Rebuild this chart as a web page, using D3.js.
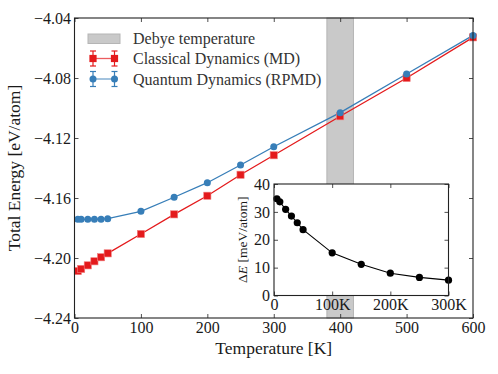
<!DOCTYPE html>
<html>
<head>
<meta charset="utf-8">
<script src="https://cdn.jsdelivr.net/npm/d3@7"></script>
<style>
  html, body { margin: 0; padding: 0; background: #fff; }
  svg { display: block; }
  text { font-family: "Liberation Serif", "DejaVu Serif", serif; fill: #1a1a1a; }
</style>
</head>
<body>
<script>
// ---------- data ----------
const temperatures = [5, 10, 20, 30, 40, 50, 100, 150, 200, 250, 300, 400, 500, 600];
const classicalMD = [-4.2087, -4.2073, -4.2049, -4.2022, -4.1995, -4.1969, -4.1840, -4.1709, -4.1585, -4.1445, -4.1315, -4.1055, -4.0800, -4.0529];
const quantumRPMD = [-4.1742, -4.1742, -4.1742, -4.1741, -4.1741, -4.1738, -4.1689, -4.1595, -4.1498, -4.1380, -4.1258, -4.1031, -4.0773, -4.0516];
const insetTemperatures = [5, 10, 20, 30, 40, 50, 100, 150, 200, 250, 300];
const deltaE = [34.7, 33.6, 30.9, 28.5, 26.1, 23.6, 15.3, 11.2, 8.0, 6.5, 5.5];
const debyeRange = [380, 420];
const xTicks = [0, 100, 200, 300, 400, 500, 600];
const yTicks = [-4.24, -4.20, -4.16, -4.12, -4.08, -4.04];
const insetXTicks = [0, 100, 200, 300];
const insetXTickLabels = ["0", "100K", "200K", "300K"];
const insetYTicks = [0, 10, 20, 30, 40];
const legendLabels = ["Debye temperature", "Classical Dynamics (MD)", "Quantum Dynamics (RPMD)"];

const RED = "#e41a1c", BLUE = "#377eb8";
const W = 498, H = 374;
const M = {left: 74.5, top: 18, right: 473, bottom: 318};
const TICKFONT = "16px";

const svg = d3.select("body").append("svg").attr("width", W).attr("height", H);

const x = d3.scaleLinear().domain([0, 600]).range([M.left, M.right]);
const y = d3.scaleLinear().domain([-4.24, -4.04]).range([M.bottom, M.top]);

// Debye band
svg.append("rect")
  .attr("x", x(debyeRange[0])).attr("y", M.top)
  .attr("width", x(debyeRange[1]) - x(debyeRange[0]))
  .attr("height", M.bottom - M.top)
  .attr("fill", "#c9c9c9").attr("stroke", "#b5b5b5").attr("stroke-width", 1);

// series
const classical = temperatures.map((t, i) => ({t, v: classicalMD[i]}));
const quantum = temperatures.map((t, i) => ({t, v: quantumRPMD[i]}));
const line = d3.line().x(d => x(d.t)).y(d => y(d.v));

svg.append("path").datum(classical).attr("d", line)
  .attr("fill", "none").attr("stroke", RED).attr("stroke-width", 1.3);
svg.append("path").datum(quantum).attr("d", line)
  .attr("fill", "none").attr("stroke", BLUE).attr("stroke-width", 1.3);

svg.selectAll(".sq").data(classical).enter().append("rect")
  .attr("x", d => x(d.t) - 3.6).attr("y", d => y(d.v) - 3.6)
  .attr("width", 7.2).attr("height", 7.2)
  .attr("fill", RED).attr("stroke", "#f08080").attr("stroke-width", 0.6);
svg.selectAll(".ci").data(quantum).enter().append("circle")
  .attr("cx", d => x(d.t)).attr("cy", d => y(d.v)).attr("r", 3.5)
  .attr("fill", BLUE);

// axes (ticks inward, all four sides)
const tl = 4;
const gx = svg.append("g").attr("transform", `translate(0,${M.bottom})`)
  .call(d3.axisBottom(x).tickValues(xTicks).tickSize(-tl).tickPadding(4).tickFormat(d3.format("d")));
const gxt = svg.append("g").attr("transform", `translate(0,${M.top})`)
  .call(d3.axisTop(x).tickValues(xTicks).tickSize(-tl).tickFormat(""));
const gy = svg.append("g").attr("transform", `translate(${M.left},0)`)
  .call(d3.axisLeft(y).tickValues(yTicks).tickSize(-tl).tickPadding(3.5).tickFormat(d3.format(".2f")));
const gyr = svg.append("g").attr("transform", `translate(${M.right},0)`)
  .call(d3.axisRight(y).tickValues(yTicks).tickSize(-tl).tickFormat(""));
[gx, gxt, gy, gyr].forEach(g => {
  g.select(".domain").remove();
  g.selectAll("line").attr("stroke", "#222").attr("stroke-width", 0.8);
  g.selectAll("text").style("font-size", TICKFONT).style("font-family", '"Liberation Serif", serif')
    .style("fill", "#1a1a1a");
});
svg.append("rect").attr("x", M.left).attr("y", M.top)
  .attr("width", M.right - M.left).attr("height", M.bottom - M.top)
  .attr("fill", "none").attr("stroke", "#222").attr("stroke-width", 1.1);

// axis labels
svg.append("text").attr("x", (M.left + M.right) / 2).attr("y", 354)
  .attr("text-anchor", "middle").style("font-size", "17.5px").text("Temperature [K]");
svg.append("text").attr("transform", `translate(20,${(M.top + M.bottom) / 2}) rotate(-90)`)
  .attr("text-anchor", "middle").style("font-size", "17.5px").text("Total Energy [eV/atom]");

// legend
const lg = svg.append("g");
lg.append("rect").attr("x", 88).attr("y", 34).attr("width", 32).attr("height", 9.5)
  .attr("fill", "#c9c9c9").attr("stroke", "#b5b5b5").attr("stroke-width", 1);
[[RED, 58.5, "sq"], [BLUE, 79, "ci"]].forEach(([c, yy, m]) => {
  lg.append("line").attr("x1", 93).attr("x2", 114.5).attr("y1", yy).attr("y2", yy)
    .attr("stroke", c).attr("stroke-width", 1.3).attr("opacity", 0.7);
  [93, 114.5].forEach(xx => {
    lg.append("line").attr("x1", xx).attr("x2", xx).attr("y1", yy - 7.5).attr("y2", yy + 7.5)
      .attr("stroke", c).attr("stroke-width", 1.2);
    [yy - 7.5, yy + 7.5].forEach(cy => lg.append("line")
      .attr("x1", xx - 3).attr("x2", xx + 3).attr("y1", cy).attr("y2", cy)
      .attr("stroke", c).attr("stroke-width", 1.2));
    if (m === "sq") lg.append("rect").attr("x", xx - 3.6).attr("y", yy - 3.6)
      .attr("width", 7.2).attr("height", 7.2).attr("fill", c);
    else lg.append("circle").attr("cx", xx).attr("cy", yy).attr("r", 3.5).attr("fill", c);
  });
});
legendLabels.forEach((t, i) => {
  lg.append("text").attr("x", 133).attr("y", [44, 64, 84.5][i])
    .style("font-size", "16px").style("fill", "#333").text(t);
});

// ---------- inset ----------
const I = {left: 274, top: 184, right: 448.5, bottom: 295.5};
const ix = d3.scaleLinear().domain([0, 300]).range([I.left, I.right]);
const iy = d3.scaleLinear().domain([0, 40]).range([I.bottom, I.top]);
svg.append("rect").attr("x", I.left).attr("y", I.top)
  .attr("width", I.right - I.left).attr("height", I.bottom - I.top)
  .attr("fill", "#fff");

const dE = insetTemperatures.map((t, i) => ({t, v: deltaE[i]}));
svg.append("path").datum(dE)
  .attr("d", d3.line().x(d => ix(d.t)).y(d => iy(d.v)))
  .attr("fill", "none").attr("stroke", "#000").attr("stroke-width", 1.1);
svg.selectAll(".ip").data(dE).enter().append("circle")
  .attr("cx", d => ix(d.t)).attr("cy", d => iy(d.v)).attr("r", 3.6).attr("fill", "#000");

const ig = [
  svg.append("g").attr("transform", `translate(0,${I.bottom})`)
    .call(d3.axisBottom(ix).tickValues(insetXTicks).tickSize(-tl).tickPadding(3)
      .tickFormat((d, i) => insetXTickLabels[i])),
  svg.append("g").attr("transform", `translate(0,${I.top})`)
    .call(d3.axisTop(ix).tickValues(insetXTicks).tickSize(-tl).tickFormat("")),
  svg.append("g").attr("transform", `translate(${I.left},0)`)
    .call(d3.axisLeft(iy).tickValues(insetYTicks).tickSize(-tl).tickPadding(4).tickFormat(d3.format("d"))),
  svg.append("g").attr("transform", `translate(${I.right},0)`)
    .call(d3.axisRight(iy).tickValues(insetYTicks).tickSize(-tl).tickFormat(""))
];
ig.forEach(g => {
  g.select(".domain").remove();
  g.selectAll("line").attr("stroke", "#222").attr("stroke-width", 0.8);
  g.selectAll("text").style("font-size", TICKFONT).style("font-family", '"Liberation Serif", serif')
    .style("fill", "#1a1a1a");
});
svg.append("rect").attr("x", I.left).attr("y", I.top)
  .attr("width", I.right - I.left).attr("height", I.bottom - I.top)
  .attr("fill", "none").attr("stroke", "#222").attr("stroke-width", 1.1);

const il = svg.append("text")
  .attr("transform", `translate(247,${(I.top + I.bottom) / 2}) rotate(-90)`)
  .attr("text-anchor", "middle").style("font-size", "13.5px");
il.append("tspan").text("Δ");
il.append("tspan").style("font-style", "italic").text("E");
il.append("tspan").text(" [meV/atom]");
</script>
</body>
</html>
